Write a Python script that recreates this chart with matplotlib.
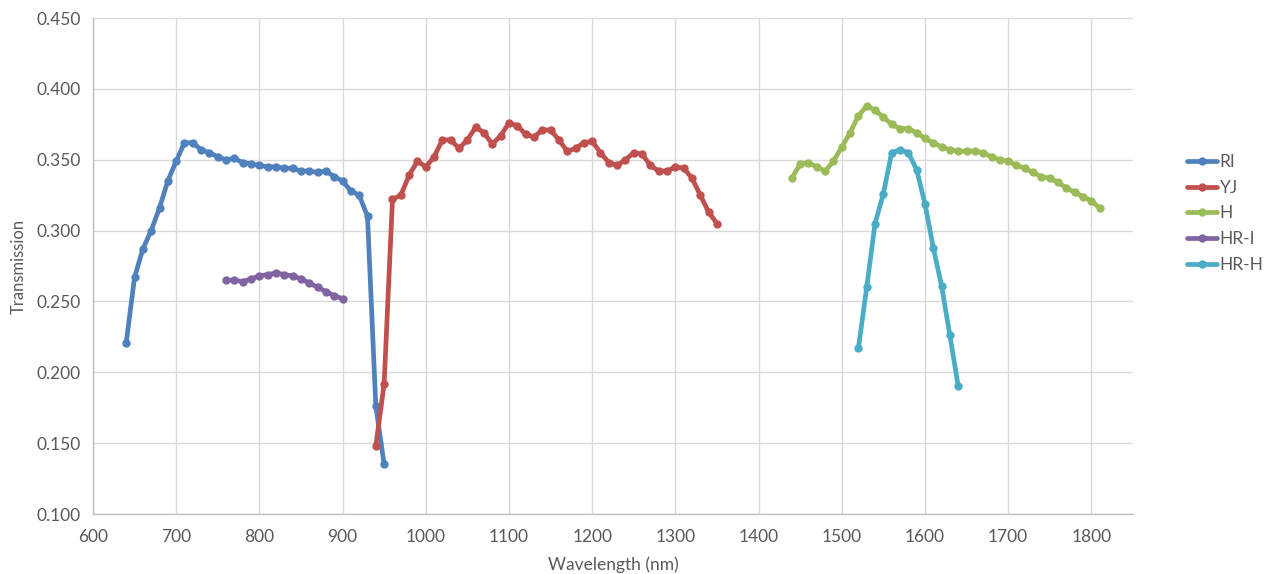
import matplotlib

matplotlib.use("Agg")
import matplotlib.pyplot as plt
from matplotlib.ticker import FormatStrFormatter, MultipleLocator

# filter transmission curves, wavelength in nm
ri_wl = list(range(640, 951, 10))
ri_tr = [0.221, 0.267, 0.287, 0.300, 0.316, 0.335, 0.349, 0.362, 0.362, 0.357,
         0.355, 0.352, 0.350, 0.351, 0.348, 0.347, 0.346, 0.345, 0.345, 0.344,
         0.344, 0.342, 0.342, 0.341, 0.342, 0.338, 0.335, 0.328, 0.325, 0.310,
         0.176, 0.135]

yj_wl = list(range(940, 1351, 10))
yj_tr = [0.148, 0.192, 0.322, 0.325, 0.339, 0.349, 0.345, 0.352, 0.364, 0.364,
         0.358, 0.364, 0.373, 0.369, 0.361, 0.367, 0.376, 0.374, 0.368, 0.366,
         0.371, 0.371, 0.364, 0.356, 0.358, 0.362, 0.363, 0.355, 0.348, 0.346,
         0.350, 0.355, 0.354, 0.346, 0.342, 0.342, 0.345, 0.344, 0.337, 0.325,
         0.313, 0.305]

h_wl = list(range(1440, 1811, 10))
h_tr = [0.337, 0.347, 0.348, 0.345, 0.342, 0.349, 0.359, 0.369, 0.381, 0.388,
        0.385, 0.380, 0.375, 0.372, 0.372, 0.369, 0.365, 0.362, 0.359, 0.357,
        0.356, 0.356, 0.356, 0.355, 0.352, 0.350, 0.349, 0.346, 0.344, 0.341,
        0.338, 0.337, 0.334, 0.330, 0.327, 0.324, 0.321, 0.316]

hri_wl = list(range(760, 901, 10))
hri_tr = [0.265, 0.265, 0.264, 0.266, 0.268, 0.269, 0.270, 0.269, 0.268, 0.266,
          0.263, 0.260, 0.257, 0.254, 0.252]

hrh_wl = list(range(1520, 1641, 10))
hrh_tr = [0.217, 0.260, 0.305, 0.326, 0.355, 0.357, 0.355, 0.343, 0.319, 0.288,
          0.261, 0.226, 0.190]

series = [
    ("RI", ri_wl, ri_tr, "#4F81BD"),
    ("YJ", yj_wl, yj_tr, "#C0504D"),
    ("H", h_wl, h_tr, "#9BBB59"),
    ("HR-I", hri_wl, hri_tr, "#8064A2"),
    ("HR-H", hrh_wl, hrh_tr, "#4BACC6"),
]

plt.rcParams["font.family"] = ["Lato", "DejaVu Sans"]

fig = plt.figure(figsize=(12.68, 5.74), dpi=100)
ax = fig.add_axes([0.0733, 0.1045, 0.8202, 0.8641])

for name, wl, tr, color in series:
    ax.plot(wl, tr, color=color, linewidth=3.4, marker="o", markersize=5,
            solid_capstyle="round", solid_joinstyle="round", label=name, zorder=3)

ax.set_xlim(600, 1850)
ax.set_ylim(0.100, 0.450)
ax.set_xticks(range(600, 1801, 100))
ax.yaxis.set_major_locator(MultipleLocator(0.05))
ax.yaxis.set_major_formatter(FormatStrFormatter("%.3f"))

ax.grid(True, color="#D9D9D9", linewidth=1.0, zorder=0)
ax.set_axisbelow(True)
for side in ("top", "right"):
    ax.spines[side].set_visible(False)
for side in ("left", "bottom"):
    ax.spines[side].set_color("#BFBFBF")
    ax.spines[side].set_linewidth(1.0)
ax.tick_params(axis="both", which="both", length=0, labelsize=12.5,
               colors="#595959", pad=9)
ax.tick_params(axis="x", pad=11)

ax.set_xlabel("Wavelength (nm)", fontsize=12.5, color="#595959", labelpad=8)
ax.set_ylabel("Transmission", fontsize=12, color="#595959", labelpad=7)

leg = ax.legend(loc="upper left", bbox_to_anchor=(1.045, 0.74), frameon=False,
                fontsize=12.5, handlelength=1.75, labelspacing=0.56,
                handletextpad=0.15, borderaxespad=0)
for text in leg.get_texts():
    text.set_color("#595959")

fig.savefig("out.png", dpi=100)
plt.close(fig)
